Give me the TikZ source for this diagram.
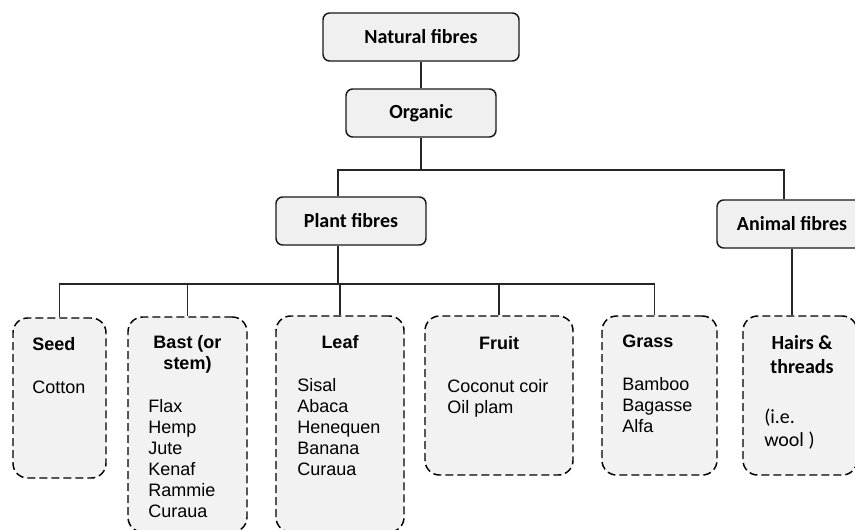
\documentclass[tikz,border=0pt]{standalone}
\usepackage{fontspec}
\usepackage{tikz}
\setmainfont{Liberation Sans}
\newfontfamily\calibri{Carlito}

\definecolor{boxfill}{HTML}{F0F0F0}
\definecolor{dashfill}{HTML}{F2F2F2}

\tikzset{
    topbox/.style={draw=black!90,line width=1.1pt,rounded corners=5pt,fill=boxfill,
        inner sep=0pt,minimum height=36pt,font=\calibri\bfseries\fontsize{15}{18}\selectfont},
    groupbox/.style={draw,dash pattern=on 6pt off 3pt,line width=1.1pt,rounded corners=11pt,
        fill=dashfill,inner sep=0pt},
    head/.style={anchor=base,inner sep=0pt,font=\bfseries\fontsize{13.5}{16}\selectfont},
    item/.style={anchor=base west,inner sep=0pt,font=\fontsize{13.5}{16}\selectfont},
    link/.style={line width=0.9pt,draw=black!85},
}

\begin{document}
\begin{tikzpicture}[x=0.75pt,y=-0.75pt]
                \useasboundingbox (0,0) rectangle (855,529);
                \clip (0,0) rectangle (855,529);
                % top levels
                \node[topbox,minimum width=147pt] (natural) at (421,37) {Natural fibres};
                \node[topbox,minimum width=112.5pt] (organic) at (421,113) {Organic};
                \node[topbox,minimum width=112.5pt] (plant) at (351,221) {Plant fibres};
                \node[topbox,minimum width=112.5pt] (animal) at (792,224) {Animal fibres};
                % groups
                \node[groupbox,minimum width=69.75pt,minimum height=120pt] (seed) at (59.5,398) {};
                \node[groupbox,minimum width=89.25pt,minimum height=161.25pt] (bast) at (187.5,424.5) {};
                \node[groupbox,minimum width=96pt,minimum height=162pt] (leaf) at (340,424) {};
                \node[groupbox,minimum width=111pt,minimum height=119.25pt] (fruit) at (499,395.5) {};
                \node[groupbox,minimum width=86.25pt,minimum height=119.25pt] (grass) at (659.5,395.5) {};
                \node[groupbox,minimum width=85.5pt,minimum height=119.25pt] (hairs) at (800,395.5) {};
                % connectors
                \coordinate (topbus) at (0,170);
                \coordinate (plantbus) at (0,284);
                \draw[link] (natural) -- (organic);
                \draw[link] (organic.south) -- (organic.south |- topbus);
                \draw[link] ([xshift=-9.75pt]plant.north) |- ([xshift=-6pt]animal.north |- topbus) -- ([xshift=-6pt]animal.north);
                \draw[link] ([xshift=-9.75pt]plant.south) -- ([xshift=-9.75pt]plant.south |- plantbus);
                \draw[link] (seed.north) |- ([xshift=-3.5pt]grass.north |- plantbus) -- ([xshift=-3.5pt]grass.north);
                \foreach \b in {bast,leaf,fruit}
                    \draw[link] (\b.north) -- (\b.north |- plantbus);
                \draw[link] (animal.south) -- (animal.south |- hairs.north);
                % texts
                \node[head,anchor=base west] (seed-h) at (32,350) {Seed};
                \node[item] (seed-1) at (32,393) {Cotton};
                \node[head] (bast-h1) at (187.5,348) {Bast (or};
                \node[head] (bast-h2) at (187.5,369) {stem)};
                \foreach \t [count=\i] in {Flax,Hemp,Jute,Kenaf,Rammie,Curaua}
                    \node[item] (bast-\i) at (148,391+21*\i) {\t};
                \node[head] (leaf-h) at (340,348) {Leaf};
                \foreach \t [count=\i] in {Sisal,Abaca,Henequen,Banana,Curaua}
                    \node[item] (leaf-\i) at (297,370+21*\i) {\t};
                \node[head] (fruit-h) at (499,349) {Fruit};
                \foreach \t [count=\i] in {Coconut coir,Oil plam}
                    \node[item] (fruit-\i) at (447,371+21*\i) {\t};
                \node[head,anchor=base west] (grass-h) at (622,347) {Grass};
                \foreach \t [count=\i] in {Bamboo,Bagasse,Alfa}
                    \node[item] (grass-\i) at (622,369+21*\i) {\t};
                \node[head,font=\calibri\bfseries\fontsize{15}{18}\selectfont] (hairs-h1) at (802,349) {Hairs \&};
                \node[head,font=\calibri\bfseries\fontsize{15}{18}\selectfont] (hairs-h2) at (802,373) {threads};
                \node[item,font=\calibri\fontsize{15}{18}\selectfont] (hairs-1) at (764,423) {(i.e.};
                \node[item,font=\calibri\fontsize{15}{18}\selectfont] (hairs-2) at (764,446) {wool )};
            \end{tikzpicture}
\end{document}
